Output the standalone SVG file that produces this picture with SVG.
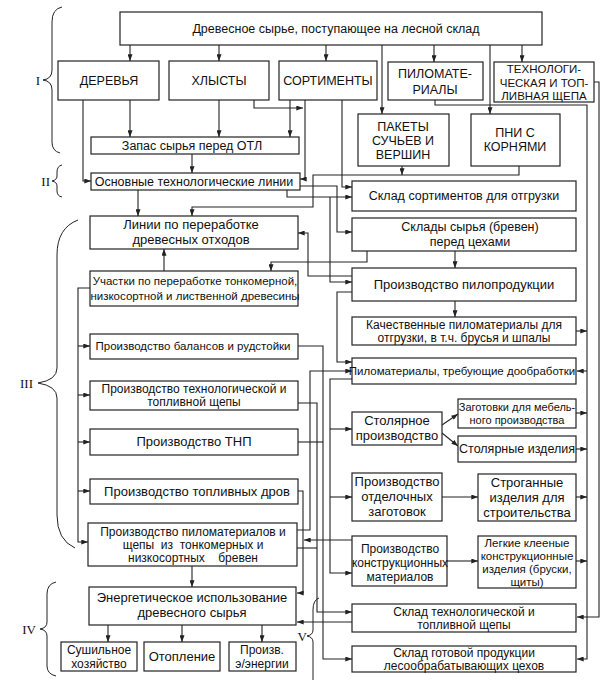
<svg xmlns="http://www.w3.org/2000/svg" width="604" height="680" viewBox="0 0 604 680">
<defs>
<marker id="a" viewBox="0 0 8 6" refX="8" refY="3" markerWidth="7" markerHeight="5" orient="auto" markerUnits="userSpaceOnUse"><path d="M0,0 L8,3 L0,6 z" fill="#222"/></marker>
</defs>
<style>
rect{fill:#fff;stroke:#222;stroke-width:1.2}
text{font-family:"Liberation Sans",Arial,sans-serif;font-size:12.5px;fill:#111;text-anchor:middle}
.s{font-size:11.5px}
.xs{font-size:11px}
.m{font-size:12px}
.l{font-size:13px}
.r{font-family:"Liberation Serif","Times New Roman",serif;font-size:13px;text-anchor:end}
#conn path{fill:none;stroke:#222;stroke-width:1.1}
.b{fill:none;stroke:#222;stroke-width:1}
</style>
<rect x="0" y="0" width="604" height="680" style="fill:#fff;stroke:none"/>
<g id="conn">
<path d="M130,45V61" marker-end="url(#a)"/>
<path d="M219,45V61" marker-end="url(#a)"/>
<path d="M326,45V61" marker-end="url(#a)"/>
<path d="M434,45V62" marker-end="url(#a)"/>
<path d="M522,45V62" marker-end="url(#a)"/>
<path d="M382,45V114" marker-end="url(#a)"/>
<path d="M490,45V114" marker-end="url(#a)"/>
<path d="M130,100V137" marker-end="url(#a)"/>
<path d="M83,100V181H91" marker-end="url(#a)"/>
<path d="M219,100V137" marker-end="url(#a)"/>
<path d="M254,100V108H303" marker-end="url(#a)"/>
<path d="M290,100V137" marker-end="url(#a)"/>
<path d="M305,100V179H300" marker-end="url(#a)"/>
<path d="M342,100V187H352" marker-end="url(#a)"/>
<path d="M192,154V173" marker-end="url(#a)"/>
<path d="M138,190V216" marker-end="url(#a)"/>
<path d="M300,186H337V232H352" marker-end="url(#a)"/>
<path d="M287,190V197H352" marker-end="url(#a)"/>
<path d="M330,197V282H352" marker-end="url(#a)"/>
<path d="M402,166V175" marker-end="url(#a)"/>
<path d="M519,166V175H313V207H192V216" marker-end="url(#a)"/>
<path d="M455,251V268" marker-end="url(#a)"/>
<path d="M367,251V262H271V271" marker-end="url(#a)"/>
<path d="M352,276H308V233H298" marker-end="url(#a)"/>
<path d="M164,271V249" marker-end="url(#a)"/>
<path d="M455,301V317" marker-end="url(#a)"/>
<path d="M90,288H78V542H88" marker-end="url(#a)"/>
<path d="M78,346H90" marker-end="url(#a)"/>
<path d="M78,395H90" marker-end="url(#a)"/>
<path d="M78,442H90" marker-end="url(#a)"/>
<path d="M78,491H90" marker-end="url(#a)"/>
<path d="M352,292H337V362H352" marker-end="url(#a)"/>
<path d="M297,530H310V371H352" marker-end="url(#a)"/>
<path d="M352,379H330V573H352" marker-end="url(#a)"/>
<path d="M330,429H352" marker-end="url(#a)"/>
<path d="M330,497H352" marker-end="url(#a)"/>
<path d="M298,346H323V659H352" marker-end="url(#a)"/>
<path d="M298,442H323"/>
<path d="M298,403H317V612H352" marker-end="url(#a)"/>
<path d="M297,548H317"/>
<path d="M298,491H303V593H297" marker-end="url(#a)"/>
<path d="M352,540H304" marker-end="url(#a)"/>
<path d="M352,622H297" marker-end="url(#a)"/>
<path d="M442,425L458,414" marker-end="url(#a)"/>
<path d="M442,433L458,446" marker-end="url(#a)"/>
<path d="M442,497H478" marker-end="url(#a)"/>
<path d="M447,561H478" marker-end="url(#a)"/>
<path d="M435,100V105H587V659H577" marker-end="url(#a)"/>
<path d="M587,371H577" marker-end="url(#a)"/>
<path d="M576,331H587" marker-end="url(#a)"/>
<path d="M576,413H587" marker-end="url(#a)"/>
<path d="M576,449H587" marker-end="url(#a)"/>
<path d="M576,497H587" marker-end="url(#a)"/>
<path d="M576,561H587" marker-end="url(#a)"/>
<path d="M594,82H599V617H577" marker-end="url(#a)"/>
<path d="M192,566V587" marker-end="url(#a)"/>
<path d="M108,625V642" marker-end="url(#a)"/>
<path d="M182,625V642" marker-end="url(#a)"/>
<path d="M262,625V642" marker-end="url(#a)"/>
</g>
<g id="braces">
<path class="b" d="M62,7 Q52,9 52,22 V70 Q52,79 43,80 Q52,81 52,90 V142 Q52,151 60,153"/>
<text class="r" x="40" y="85">I</text>
<path class="b" d="M62,165 Q57,166 57,172 V176 Q57,180 52,181 Q57,182 57,186 V191 Q57,196 62,197"/>
<text class="r" x="50" y="186">II</text>
<path class="b" d="M78,220 Q57,228 57,255 V368 Q57,380 38,383 Q57,386 57,398 V515 Q57,540 75,548"/>
<text class="r" x="33" y="388">III</text>
<path class="b" d="M56,582 Q47,584 47,594 V622 Q47,628 40,629 Q47,630 47,636 V666 Q47,674 56,676"/>
<text class="r" x="36" y="634">IV</text>
<path class="b" d="M319,598 Q313,600 313,610 V630 Q313,635 307,636 Q313,637 313,642 V680"/>
<text class="r" x="307" y="641">V</text>
</g>
<g id="n_top"><rect x="120" y="12" width="422" height="33"/><text x="336" y="33">Древесное сырье, поступающее на лесной склад</text></g>
<g id="n_derevya"><rect x="58" y="61" width="101" height="39"/><text x="109" y="85">ДЕРЕВЬЯ</text></g>
<g id="n_khlysty"><rect x="169" y="61" width="100" height="39"/><text x="219" y="85">ХЛЫСТЫ</text></g>
<g id="n_sortimenty"><rect x="279" y="61" width="98" height="39"/><text x="328" y="85">СОРТИМЕНТЫ</text></g>
<g id="n_pilomat"><rect x="388" y="62" width="95" height="38"/><text x="435" y="78">ПИЛОМАТЕ-</text><text x="435" y="94">РИАЛЫ</text></g>
<g id="n_shchepa"><rect x="494" y="62" width="100" height="40"/><text class="s" x="544" y="73">ТЕХНОЛОГИ-</text><text class="s" x="544" y="87">ЧЕСКАЯ И ТОП-</text><text class="s" x="544" y="100">ЛИВНАЯ ЩЕПА</text></g>
<g id="n_pakety"><rect x="358" y="114" width="91" height="52"/><text x="403" y="131">ПАКЕТЫ</text><text x="403" y="145">СУЧЬЕВ И</text><text x="403" y="159">ВЕРШИН</text></g>
<g id="n_pni"><rect x="471" y="114" width="89" height="52"/><text x="515" y="137">ПНИ С</text><text x="515" y="151">КОРНЯМИ</text></g>
<g id="n_zapas"><rect x="91" y="137" width="208" height="17"/><text x="192" y="150">Запас сырья перед ОТЛ</text></g>
<g id="n_osnovnye"><rect x="91" y="173" width="209" height="17"/><text x="194" y="186">Основные технологические линии</text></g>
<g id="n_sklad_sort"><rect x="352" y="181" width="224" height="30"/><text x="464" y="200">Склад сортиментов для отгрузки</text></g>
<g id="n_linii"><rect x="90" y="216" width="208" height="33"/><text class="l" x="191" y="229">Линии по переработке</text><text class="l" x="191" y="244">древесных отходов</text></g>
<g id="n_sklady_syrya"><rect x="352" y="218" width="224" height="33"/><text x="470" y="231">Склады сырья (бревен)</text><text x="470" y="246">перед цехами</text></g>
<g id="n_uchastki"><rect x="90" y="271" width="208" height="35"/><text class="s" x="195" y="285">Участки по переработке тонкомерной,</text><text class="s" x="195" y="300">низкосортной и лиственной древесины</text></g>
<g id="n_pilo"><rect x="352" y="268" width="224" height="33"/><text class="l" x="464" y="289">Производство пилопродукции</text></g>
<g id="n_kachest"><rect x="352" y="317" width="224" height="28"/><text class="m" x="464" y="329">Качественные пиломатериалы для</text><text class="m" x="464" y="342">отгрузки, в т.ч. брусья и шпалы</text></g>
<g id="n_balans"><rect x="90" y="334" width="208" height="25"/><text class="s" x="193" y="350">Производство балансов и рудстойки</text></g>
<g id="n_pilom_treb"><rect x="352" y="358" width="224" height="26"/><text class="s" x="462" y="375">Пиломатериалы, требующие дообработки</text></g>
<g id="n_tekh_shch"><rect x="90" y="381" width="208" height="29"/><text class="m" x="194" y="393">Производство технологической и</text><text class="m" x="194" y="406">топливной щепы</text></g>
<g id="n_stolyar"><rect x="352" y="412" width="90" height="33"/><text class="l" x="397" y="425">Столярное</text><text class="l" x="397" y="440">производство</text></g>
<g id="n_zagot"><rect x="458" y="399" width="118" height="29"/><text class="xs" x="517" y="411">Заготовки для мебель-</text><text class="xs" x="517" y="424">ного производства</text></g>
<g id="n_stol_izd"><rect x="458" y="436" width="118" height="26"/><text x="517" y="453">Столярные изделия</text></g>
<g id="n_tnp"><rect x="90" y="429" width="208" height="26"/><text class="l" x="194" y="446">Производство ТНП</text></g>
<g id="n_drov"><rect x="90" y="479" width="208" height="25"/><text class="l" x="197" y="496">Производство топливных дров</text></g>
<g id="n_otdel"><rect x="352" y="473" width="90" height="48"/><text class="l" x="397" y="486">Производство</text><text class="l" x="397" y="501">отделочных</text><text class="l" x="397" y="516">заготовок</text></g>
<g id="n_strog"><rect x="478" y="474" width="98" height="47"/><text class="l" x="527" y="487">Строганные</text><text class="l" x="527" y="502">изделия для</text><text class="l" x="527" y="517">строительства</text></g>
<g id="n_pilomat_shch"><rect x="88" y="523" width="209" height="43"/><text class="m" x="193" y="536">Производство пиломатериалов и</text><text class="m" x="193" y="549" xml:space="preserve">щепы  из  тонкомерных и</text><text class="m" x="193" y="562" xml:space="preserve">низкосортных    бревен</text></g>
<g id="n_konstr"><rect x="352" y="536" width="95" height="50"/><text class="m" x="400" y="553">Производство</text><text class="m" x="400" y="567">конструкционных</text><text class="m" x="400" y="581">материалов</text></g>
<g id="n_legkie"><rect x="478" y="536" width="98" height="52"/><text class="s" x="527" y="547">Легкие клееные</text><text class="s" x="527" y="560">конструкционные</text><text class="s" x="527" y="573">изделия (бруски,</text><text class="s" x="527" y="586">щиты)</text></g>
<g id="n_energ"><rect x="89" y="587" width="207" height="38"/><text class="l" x="192" y="602">Энергетическое использование</text><text class="l" x="192" y="617">древесного сырья</text></g>
<g id="n_sush"><rect x="61" y="642" width="76" height="29"/><text class="m" x="99" y="654">Сушильное</text><text class="m" x="99" y="668">хозяйство</text></g>
<g id="n_otopl"><rect x="144" y="642" width="76" height="29"/><text class="l" x="182" y="661">Отопление</text></g>
<g id="n_proizv"><rect x="229" y="642" width="67" height="29"/><text class="m" x="262" y="654">Произв.</text><text class="m" x="262" y="668">э/энергии</text></g>
<g id="n_sklad_shch"><rect x="352" y="604" width="224" height="28"/><text class="m" x="464" y="616">Склад технологической и</text><text class="m" x="464" y="629">топливной щепы</text></g>
<g id="n_sklad_got"><rect x="352" y="646" width="224" height="26"/><text class="m" x="464" y="657">Склад готовой продукции</text><text class="m" x="464" y="670">лесообрабатывающих цехов</text></g>
</svg>
